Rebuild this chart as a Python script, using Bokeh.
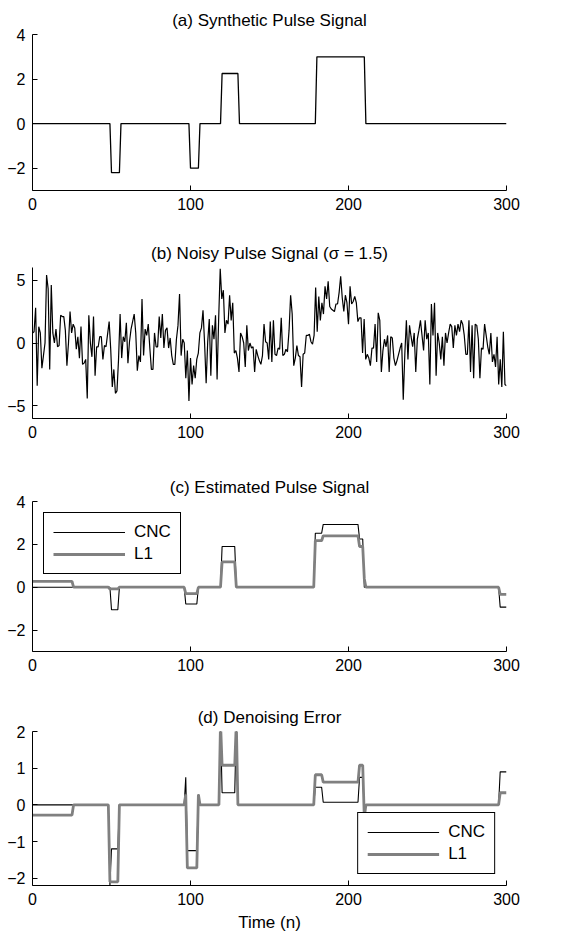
from bokeh.plotting import figure
from bokeh.layouts import column
from bokeh.models import Range1d, FixedTicker, Legend, LegendItem
from bokeh.embed import file_html
from bokeh.resources import INLINE
import numpy as np

FONT = "Liberation Sans"
GRAY = "#808080"

# ---------------- data ----------------
x_ticks = [0, 100, 200, 300]

# (a) synthetic pulse signal: breakpoints (n, value)
sig_n = [0, 49, 50, 55, 56, 99, 100, 105, 106, 119, 120, 130, 131, 179, 180, 210, 211, 300]
sig_v = [0, 0, -2.2, -2.2, 0, 0, -2.0, -2.0, 0, 0, 2.25, 2.25, 0, 0, 3.0, 3.0, 0, 0]

# (b) noisy pulse signal, samples n = 0..300
noisy = [
    0.8, 0.9, 2.8, -3.4, 1.3, 0.8, -2.0, -1.0, 0.0, 5.4, 4.3, -2.1, 4.6, 0.8, 0.0, 1.1, -0.3, -0.2, 2.2, 2.1,
    2.1, 1.0, -1.8, 0.0, 2.5, 0.8, 1.5, 1.2, -0.5, 0.5, -1.2, 1.3, -1.7, -1.6, -1.3, -4.4, 2.2, 0.0, -1.1, 2.1,
    -2.6, -0.3, -0.3, 0.5, 0.5, -1.3, -0.2, -0.3, 0.7, 1.7, -0.5, -3.5, -2.1, -4.0, -3.8, -1.3, 2.3, -1.2, 0.5, 0.1,
    1.6, -1.6, 0.1, 1.1, 1.7, 2.3, 0.8, -2.2, -1.0, -1.5, 3.5, -1.0, 1.1, 0.6, 1.5, -0.4, -2.1, -2.1, 0.8, -0.3,
    -0.3, 2.1, 0.4, 2.3, -0.4, 1.0, 1.2, -0.4, 0.4, -1.0, -1.7, -1.7, 0.3, 1.4, 3.9, -1.0, 0.3, 0.0, -2.8, -0.6,
    -4.6, -1.2, -3.3, -1.8, -2.8, -1.3, -0.8, 0.8, 1.2, 2.6, 0.0, -3.2, 0.1, 1.9, -2.6, 1.4, 0.3, 2.2, -2.9, 1.9,
    5.9, 3.5, 4.2, 0.8, 1.8, 1.5, 3.8, 1.8, 3.2, -0.8, -0.6, -1.2, -2.3, 0.8, 0.5, 0.0, -1.9, 1.4, -0.6, 0.0,
    -0.4, -0.3, -2.3, -0.5, -1.0, -1.4, -1.7, -1.0, 1.5, 0.1, 0.0, -1.3, 1.7, -1.5, 1.8, -0.9, -1.0, -0.4, -0.5, 2.0,
    -1.0, -0.9, -0.5, -0.7, 1.0, 3.8, 2.3, -1.8, -1.2, -0.2, -1.0, -1.1, -3.5, -0.9, -0.8, 0.6, 0.6, 0.7, 0.1, -0.1,
    0.6, 4.4, 0.9, 3.7, 1.8, 3.2, 2.3, 4.5, 3.5, 4.9, 2.9, 2.7, 2.6, 2.5, 3.1, 3.1, 4.0, 5.3, 3.6, 2.5,
    3.8, 3.2, 1.5, 4.5, 3.1, 3.3, 3.7, 3.2, 1.7, 2.0, 2.0, -0.8, 1.9, -1.3, -0.9, -1.2, -1.8, -0.4, -0.4, 1.5,
    -1.5, 2.4, 1.8, -2.3, -0.6, 0.3, -0.3, 0.6, -2.3, 0.5, 0.4, -1.2, -1.8, -1.4, -0.9, -0.4, 0.0, -4.5, -0.9, 1.8,
    -1.3, 1.4, 0.5, -0.3, 0.8, -2.3, 0.3, 1.0, 1.8, 0.6, -0.6, 1.8, 0.3, 0.8, -3.3, 3.1, 0.6, 3.2, -2.6, 0.8,
    0.0, -1.3, 0.5, -1.8, 0.8, 0.0, 0.8, 1.5, 1.3, -0.4, 1.4, 0.6, 1.5, 0.9, 1.8, 1.5, 0.6, -0.9, -0.9, 1.8,
    -2.3, 1.4, -2.8, 1.5, 1.4, 0.3, -2.8, -0.4, -0.5, 1.5, 0.6, -0.3, -0.9, 0.8, -1.5, -0.9, -1.9, 0.5, -3.3, -1.3,
    -3.5, 0.9, -3.3, -3.4,
]
noisy_n = list(np.linspace(0, 300, len(noisy)))

# (c) estimated pulse signal
cnc_n = [0, 49, 50, 54, 55, 96, 97, 104, 105, 119, 120, 128, 129, 178, 179, 183, 184, 206, 207, 209, 210, 295, 296, 300]
cnc_v = [0, 0, -1.05, -1.05, 0, 0, -0.78, -0.78, 0, 0, 1.9, 1.9, 0, 0, 2.52, 2.52, 2.93, 2.93, 2.25, 2.25, 0, 0, -0.93, -0.93]
l1_n = [0, 25, 26, 48, 49, 54, 55, 96, 97, 104, 105, 119, 120, 128, 129, 178, 179, 183, 184, 206, 207, 209, 210, 211, 295, 296, 300]
l1_v = [0.27, 0.27, 0, 0, -0.08, -0.08, 0, 0, -0.3, -0.3, 0, 0, 1.18, 1.18, 0, 0, 2.17, 2.17, 2.4, 2.4, 1.9, 1.9, 0.4, 0, 0, -0.33, -0.33]

# (d) denoising error
ecnc_n = [0, 48, 49, 50, 54, 55, 96, 97, 98, 104, 105, 106, 118, 119, 120, 128, 129, 130, 178, 179, 183, 184, 206, 207, 209, 210, 211, 295, 296, 300]
ecnc_v = [0, 0, -2.2, -1.2, -1.2, 0, 0, 0.75, -1.25, -1.25, 0.28, 0, 0, 2.25, 0.33, 0.33, 2.25, 0, 0, 0.48, 0.48, 0.07, 0.07, 0.75, 0.75, -0.15, 0, 0, 0.9, 0.9]
el1_n = [0, 25, 26, 48, 49, 54, 55, 96, 97, 98, 104, 105, 106, 118, 119, 120, 128, 129, 130, 178, 179, 183, 184, 206, 207, 209, 210, 211, 295, 296, 300]
el1_v = [-0.28, -0.28, 0, 0, -2.1, -2.1, 0, 0, 0.28, -1.72, -1.72, 0.28, 0, 0, 2.25, 1.08, 1.08, 2.25, 0, 0, 0.82, 0.82, 0.62, 0.62, 1.08, 1.08, -0.35, 0, 0, 0.33, 0.33]

titles = ["(a) Synthetic Pulse Signal", "(b) Noisy Pulse Signal (\u03c3 = 1.5)",
          "(c) Estimated Pulse Signal", "(d) Denoising Error"]
legend_labels = ["CNC", "L1"]


def make_fig(title, height, top, bottom, yr, yticks):
    p = figure(width=560, height=height, output_backend="svg", toolbar_location=None,
               x_range=Range1d(0, 300), y_range=Range1d(*yr),
               min_border_left=32, min_border_right=54, min_border_top=top, min_border_bottom=bottom)
    p.title.text = title
    p.title.align = "center"
    p.title.text_font = FONT
    p.title.text_font_size = "17px"
    p.title.text_font_style = "normal"
    p.title.text_color = "black"
    p.title.standoff = 10
    p.xaxis.ticker = FixedTicker(ticks=x_ticks)
    p.yaxis.ticker = FixedTicker(ticks=yticks)
    p.yaxis.major_label_overrides = {t: ("\u2212%g" % -t if t < 0 else "%g" % t) for t in yticks}
    for ax in (p.xaxis[0], p.yaxis[0]):
        ax.major_tick_in = 5
        ax.major_tick_out = 0
        ax.minor_tick_in = 0
        ax.minor_tick_out = 0
        ax.axis_line_color = "black"
        ax.major_tick_line_color = "black"
        ax.major_label_text_font = FONT
        ax.major_label_text_font_size = "16px"
        ax.major_label_text_color = "black"
        ax.major_label_standoff = 7
    p.xgrid.visible = False
    p.ygrid.visible = False
    p.outline_line_color = None
    return p


def add_legend(p, r1, r2, loc):
    leg = Legend(items=[LegendItem(label=legend_labels[0], renderers=[r1]),
                        LegendItem(label=legend_labels[1], renderers=[r2])],
                 location=loc)
    leg.label_text_font = FONT
    leg.label_text_font_size = "17px"
    leg.label_text_color = "black"
    leg.border_line_color = "black"
    leg.border_line_alpha = 1.0
    leg.border_line_width = 1.2
    leg.background_fill_color = "white"
    leg.background_fill_alpha = 1
    leg.padding = 9
    leg.spacing = 2
    leg.glyph_width = 72
    leg.label_standoff = 9
    leg.margin = 11
    p.add_layout(leg)


pa = make_fig(titles[0], 236, 34, 46, (-3, 4), [-2, 0, 2, 4])
pa.line(sig_n, sig_v, line_color="black", line_width=1.3)

pb = make_fig(titles[1], 234, 30, 52, (-6, 6), [-5, 0, 5])
pb.line(noisy_n, noisy, line_color="black", line_width=1.2)

pc = make_fig(titles[2], 230, 30, 49, (-3, 4), [-2, 0, 2, 4])
rc1 = pc.line(cnc_n, cnc_v, line_color="black", line_width=1.1)
rc2 = pc.line(l1_n, l1_v, line_color=GRAY, line_width=2.8)
add_legend(pc, rc1, rc2, "top_left")

pd_ = make_fig(titles[3], 235, 30, 50, (-2.2, 2), [-2, -1, 0, 1, 2])
rd1 = pd_.line(ecnc_n, ecnc_v, line_color="black", line_width=1.1)
rd2 = pd_.line(el1_n, el1_v, line_color=GRAY, line_width=2.8)
pd_.xaxis.axis_label = "Time (n)"
pd_.xaxis.axis_label_text_font = FONT
pd_.xaxis.axis_label_text_font_size = "17px"
pd_.xaxis.axis_label_text_font_style = "normal"
pd_.xaxis.axis_label_text_color = "black"
pd_.xaxis.axis_label_standoff = 5
add_legend(pd_, rd1, rd2, "bottom_right")

layout = column(pa, pb, pc, pd_, spacing=0)
open("out.html", "w").write(file_html(layout, INLINE))
